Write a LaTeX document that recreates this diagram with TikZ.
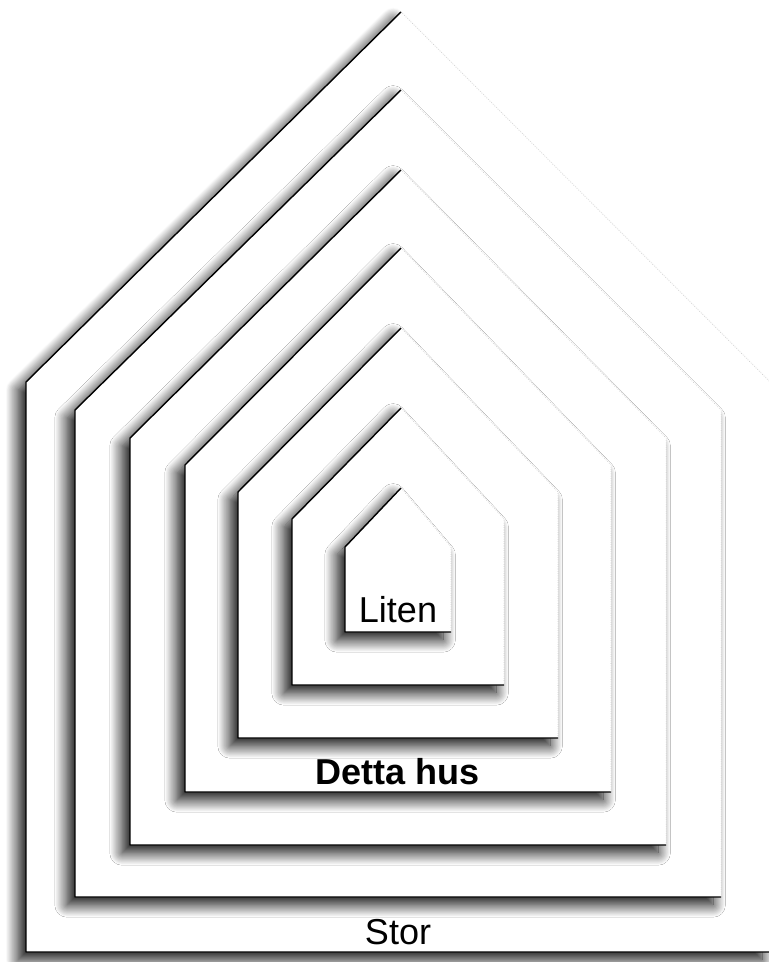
\documentclass[tikz,border=0pt]{standalone}
\usepackage{fontspec}
\newfontfamily\labelfont{Liberation Sans}
\usetikzlibrary{shadows.blur}

\tikzset{
  house shadow/.style={blur shadow={shadow xshift=-4.5pt, shadow yshift=-4.5pt,
    shadow blur radius=7pt, shadow blur steps=20, shadow opacity=95}},
  edge dark/.style={draw=black, line width=0.8pt, line join=round},
  edge faint/.style={draw=black!25, line width=0.3pt, densely dotted},
  label text/.style={font=\labelfont\fontsize{20.5}{24}\selectfont, inner sep=0pt}
}

\begin{document}
\begin{tikzpicture}[x=0.02cm, y=-0.02cm]
\useasboundingbox (0,0) rectangle (768,962);
% houses, outer to inner: half width / eave / peak / floor
\foreach \hw/\cy/\py/\by in {372/382/12/952, 323/410/90/897, 268/438/170/845,
  213/465/248/792, 160/492/328/738, 106/519/408/685, 53/547/488/632} {
  \fill[white, house shadow] (398-\hw,\by) -- (398-\hw,\cy) -- (401,\py)
    -- (398+\hw,\cy) -- (398+\hw,\by) -- cycle;
  \draw[edge dark] (398+\hw,\by) -- (398-\hw,\by) -- (398-\hw,\cy) -- (401,\py);
  \draw[edge faint] (401,\py) -- (398+\hw,\cy) -- (398+\hw,\by);
}
% labels
\node[label text] (liten) at (398,610) {Liten};
\node[label text, font=\labelfont\bfseries\fontsize{20.5}{24}\selectfont] (detta) at (398,772) {Detta hus};
\node[label text] (stor) at (398,932) {Stor};
\end{tikzpicture}
\end{document}
